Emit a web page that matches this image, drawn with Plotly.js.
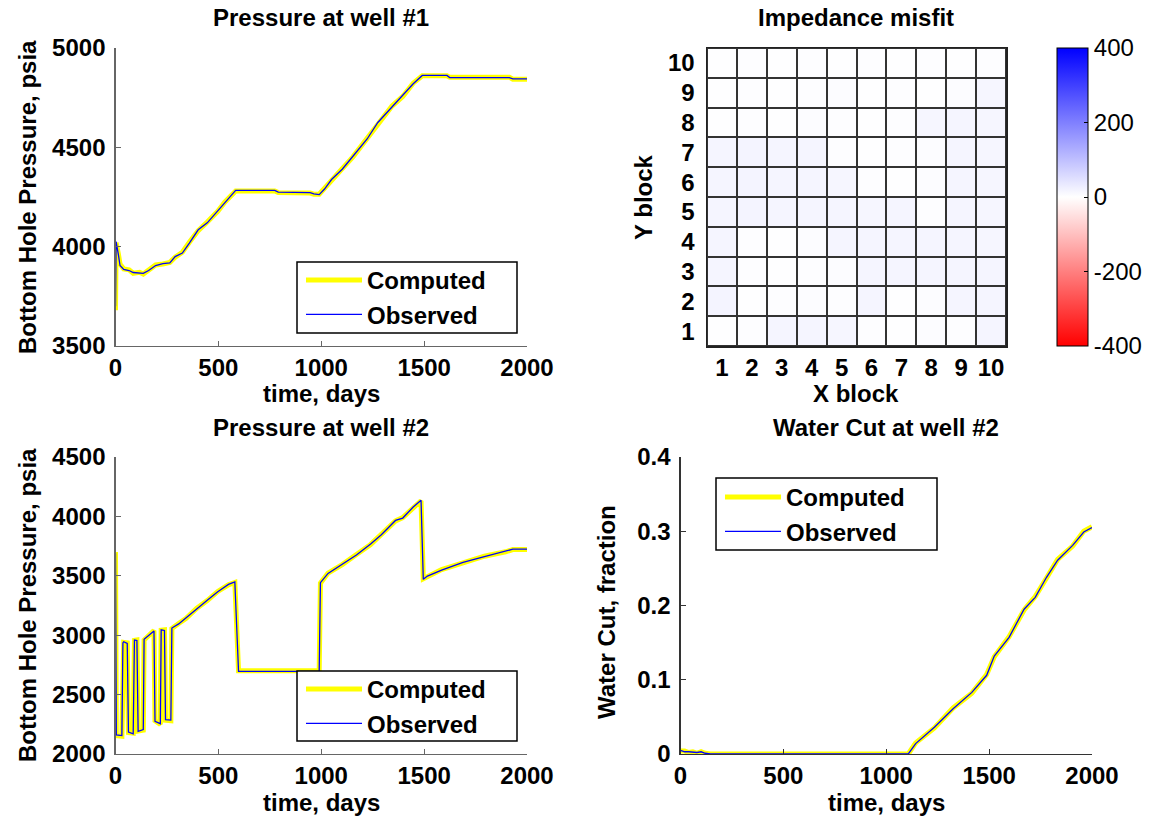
<!DOCTYPE html>
<html>
<head>
<meta charset="utf-8">
<script src="https://cdn.plot.ly/plotly-3.0.1.min.js"></script>
<style>
  html, body { margin: 0; padding: 0; background: #ffffff; }
  #chart { width: 1149px; height: 822px; }
</style>
</head>
<body>
<div id="chart"></div>
<script>
// ---- Well #1 bottom hole pressure, psia ----
const well1Days = [0, 3, 14, 22, 40, 66, 86, 117, 135, 161, 195, 230, 264, 290, 325, 359, 402, 446, 497, 532, 584, 774, 791, 946, 964, 990, 1016, 1050, 1102, 1154, 1223, 1275, 1344, 1396, 1447, 1491, 1611, 1624, 1914, 1931, 2000];
const well1Computed = [3680, 4020, 3963, 3913, 3888, 3883, 3866, 3871, 3862, 3883, 3908, 3913, 3921, 3947, 3972, 4022, 4081, 4124, 4178, 4225, 4280, 4280, 4272, 4270, 4264, 4264, 4292, 4334, 4393, 4452, 4545, 4621, 4708, 4756, 4823, 4860, 4860, 4853, 4853, 4843, 4843];
const well1Observed = [3700, 4025, 3960, 3905, 3885, 3880, 3870, 3868, 3866, 3880, 3905, 3915, 3918, 3950, 3968, 4018, 4085, 4120, 4182, 4220, 4283, 4283, 4275, 4272, 4266, 4262, 4290, 4338, 4390, 4455, 4542, 4625, 4704, 4760, 4820, 4862, 4862, 4851, 4851, 4845, 4845];

// ---- Well #2 bottom hole pressure, psia ----
const well2Days = [0, 4, 31, 36, 40, 57, 63, 86, 92, 104, 110, 135, 139, 187, 192, 218, 222, 238, 243, 269, 274, 307, 342, 394, 446, 497, 549, 580, 598, 990, 996, 1033, 1102, 1171, 1240, 1292, 1361, 1396, 1447, 1485, 1496, 1516, 1585, 1689, 1793, 1896, 1931, 2000];
const well2Computed = [3700, 2155, 2150, 2929, 2940, 2935, 2180, 2175, 2957, 2960, 2193, 2200, 2960, 3040, 2280, 2250, 3042, 3045, 2285, 2280, 3056, 3099, 3141, 3226, 3291, 3368, 3424, 3444, 2700, 2700, 3438, 3523, 3594, 3679, 3764, 3849, 3962, 3990, 4075, 4132, 3475, 3495, 3552, 3608, 3665, 3702, 3721, 3721];
const well2Observed = [3690, 2160, 2155, 2935, 2945, 2930, 2185, 2170, 2960, 2955, 2190, 2205, 2965, 3035, 2275, 2255, 3045, 3040, 2290, 2285, 3060, 3095, 3145, 3222, 3295, 3365, 3428, 3448, 2695, 2695, 3442, 3520, 3598, 3675, 3768, 3845, 3966, 3986, 4079, 4136, 3470, 3498, 3548, 3612, 3661, 3706, 3724, 3724];

// ---- Well #2 water cut, fraction ----
const wcDays = [0, 20, 40, 60, 80, 100, 120, 145, 1107, 1143, 1234, 1325, 1416, 1488, 1525, 1597, 1670, 1724, 1779, 1833, 1906, 1960, 2000];
const wcComputed = [0.004, 0.004, 0.002, 0.003, 0.001, 0.003, 0.001, 0.000, 0.000, 0.015, 0.035, 0.062, 0.082, 0.107, 0.131, 0.158, 0.194, 0.212, 0.237, 0.262, 0.280, 0.300, 0.306];
const wcObserved = [0.005, 0.003, 0.003, 0.002, 0.002, 0.003, 0.001, 0.000, 0.000, 0.014, 0.036, 0.061, 0.083, 0.106, 0.132, 0.157, 0.195, 0.211, 0.238, 0.261, 0.281, 0.299, 0.305];

// ---- Impedance misfit per grid block (rows: Y block 1..10, cols: X block 1..10) ----
const xBlocks = [1, 2, 3, 4, 5, 6, 7, 8, 9, 10];
const yBlocks = [1, 2, 3, 4, 5, 6, 7, 8, 9, 10];
const misfit = [
  [2, 3, 16, 15, 14, 3, 2, 4, 3, 16],
  [17, 2, 3, 4, 3, 15, 2, 4, 16, 15],
  [16, 3, 2, 3, 4, 15, 16, 15, 16, 15],
  [16, 3, 2, 4, 15, 16, 15, 16, 15, 14],
  [16, 17, 16, 15, 15, 14, 15, 3, 15, 14],
  [16, 17, 16, 15, 14, 3, 2, 4, 15, 14],
  [16, 17, 16, 15, 3, 2, 3, 4, 15, 14],
  [2, 3, 2, 4, 3, 2, 3, 14, 15, 14],
  [2, 3, 2, 3, 4, 2, 3, 2, 4, 14],
  [2, 3, 2, 3, 2, 3, 2, 3, 2, 3]
];
const misfitTicks = [-400, -200, 0, 200, 400];

// ---- page geometry helpers (pixel -> paper fraction) ----
const W = 1149, H = 822;
const px = v => v / W;
const py = v => 1 - v / H;

const FONT = 'Liberation Sans, Arial, Helvetica, sans-serif';
const boldFont = (size) => ({ family: FONT, size: size, color: '#000000', weight: 'bold' });

const COMPUTED_STYLE = { color: '#ffff00', width: 5 };
const OBSERVED_STYLE = { color: '#0000ff', width: 1.3 };

function pair(x, yc, yo, xa, ya, legendId) {
  return [
    { type: 'scatter', mode: 'lines', x: x, y: yc, name: 'Computed', xaxis: xa, yaxis: ya,
      line: COMPUTED_STYLE, legend: legendId, hoverinfo: 'skip' },
    { type: 'scatter', mode: 'lines', x: x, y: yo, name: 'Observed', xaxis: xa, yaxis: ya,
      line: OBSERVED_STYLE, legend: legendId, hoverinfo: 'skip' }
  ];
}

const traces = [].concat(
  pair(well1Days, well1Computed, well1Observed, 'x', 'y', 'legend'),
  pair(well2Days, well2Computed, well2Observed, 'x3', 'y3', 'legend2'),
  pair(wcDays, wcComputed, wcObserved, 'x4', 'y4', 'legend3'),
  [{
    type: 'heatmap', x: xBlocks, y: yBlocks, z: misfit, xaxis: 'x2', yaxis: 'y2',
    zmin: -400, zmax: 400, xgap: 2, ygap: 2, showlegend: false, hoverinfo: 'skip',
    colorscale: [[0, '#ff0000'], [0.5, '#ffffff'], [1, '#0000ff']],
    colorbar: {
      x: px(1057), xanchor: 'left', xpad: 0,
      y: py(197), yanchor: 'middle', ypad: 0,
      thickness: 31, thicknessmode: 'pixels',
      len: 298, lenmode: 'pixels',
      outlinecolor: '#000000', outlinewidth: 1,
      tickvals: misfitTicks, ticktext: misfitTicks.map(String),
      ticks: 'inside', ticklen: 4, tickcolor: '#000000',
      tickfont: { family: FONT, size: 24, color: '#000000' }
    }
  }]
);

function lineAxis(domain, range, dtick, color, anchor, standoff) {
  return {
    domain: domain, range: range, dtick: dtick, tick0: 0, anchor: anchor,
    showline: true, linecolor: color, linewidth: 1.2, mirror: false,
    ticks: 'inside', ticklen: 5, tickcolor: color, tickwidth: 1,
    showgrid: false, zeroline: false, fixedrange: true,
    tickfont: boldFont(24), ticklabelstandoff: standoff
  };
}

const plotLeftX = [px(115.5), px(527)];
const plotRightX = [px(680.5), px(1092)];
const topY = [py(346), py(48)];
const bottomY = [py(754), py(457)];

const gridAxis = (domain, anchor, standoff) => ({
  domain: domain, range: [0.5, 10.5], anchor: anchor,
  tickvals: xBlocks, ticktext: xBlocks.map(String), ticks: '',
  showline: true, mirror: true, linecolor: '#222222', linewidth: 1.5,
  showgrid: false, zeroline: false, fixedrange: true,
  tickfont: boldFont(24), ticklabelstandoff: standoff
});

const legendBase = (x, y) => ({
  x: px(x), y: py(y), xanchor: 'left', yanchor: 'top',
  bgcolor: 'rgba(0,0,0,0)', borderwidth: 0,
  font: boldFont(24), itemwidth: 56, tracegroupgap: 0
});

const legendBox = (x0, y0, x1, y1) => ({
  type: 'rect', xref: 'paper', yref: 'paper', layer: 'above',
  x0: px(x0), x1: px(x1), y0: py(y1), y1: py(y0),
  fillcolor: '#ffffff', line: { color: '#000000', width: 1.5 }
});

const label = (text, x, y, angle) => ({
  text: text, xref: 'paper', yref: 'paper', x: px(x), y: py(y),
  xanchor: 'center', yanchor: 'middle', showarrow: false,
  textangle: angle || 0, font: boldFont(24)
});

const layout = {
  width: W, height: H, autosize: false,
  margin: { l: 0, r: 0, t: 0, b: 0, pad: 0 },
  paper_bgcolor: '#ffffff', plot_bgcolor: 'rgba(0,0,0,0)',
  xaxis: lineAxis(plotLeftX, [0, 2000], 500, '#666666', 'y', 0),
  yaxis: lineAxis(topY, [3500, 5000], 500, '#666666', 'x', 4),
  xaxis2: gridAxis([px(707), px(1006)], 'y2', 0),
  yaxis2: gridAxis(topY, 'x2', 6),
  xaxis3: lineAxis(plotLeftX, [0, 2000], 500, '#666666', 'y3', 0),
  yaxis3: lineAxis(bottomY, [2000, 4500], 500, '#666666', 'x3', 4),
  xaxis4: lineAxis(plotRightX, [0, 2000], 500, '#333333', 'y4', 0),
  yaxis4: lineAxis(bottomY, [0, 0.4], 0.1, '#333333', 'x4', 4),
  legend: legendBase(301, 258),
  legend2: legendBase(301, 667),
  legend3: legendBase(720, 475),
  shapes: [
    { type: 'rect', xref: 'x2 domain', yref: 'y2 domain', x0: 0, x1: 1, y0: 0, y1: 1,
      layer: 'below', fillcolor: '#333333', line: { width: 0 } },
    legendBox(297, 262, 517, 333),
    legendBox(297, 671, 517, 741),
    legendBox(716, 478, 937, 550)
  ],
  annotations: [
    label('Pressure at well #1', 321, 18),
    label('Impedance misfit', 856, 18),
    label('Pressure at well #2', 321, 427),
    label('Water Cut at well #2', 886, 427),
    label('Bottom Hole Pressure, psia', 27, 197, -90),
    label('time, days', 321, 393),
    label('Y block', 643, 197, -90),
    label('X block', 856, 393),
    label('Bottom Hole Pressure, psia', 27, 605, -90),
    label('time, days', 321, 802),
    label('Water Cut, fraction', 606, 612, -90),
    label('time, days', 886, 802)
  ]
};

Plotly.newPlot('chart', traces, layout, { displayModeBar: false, staticPlot: true });
</script>
</body>
</html>
